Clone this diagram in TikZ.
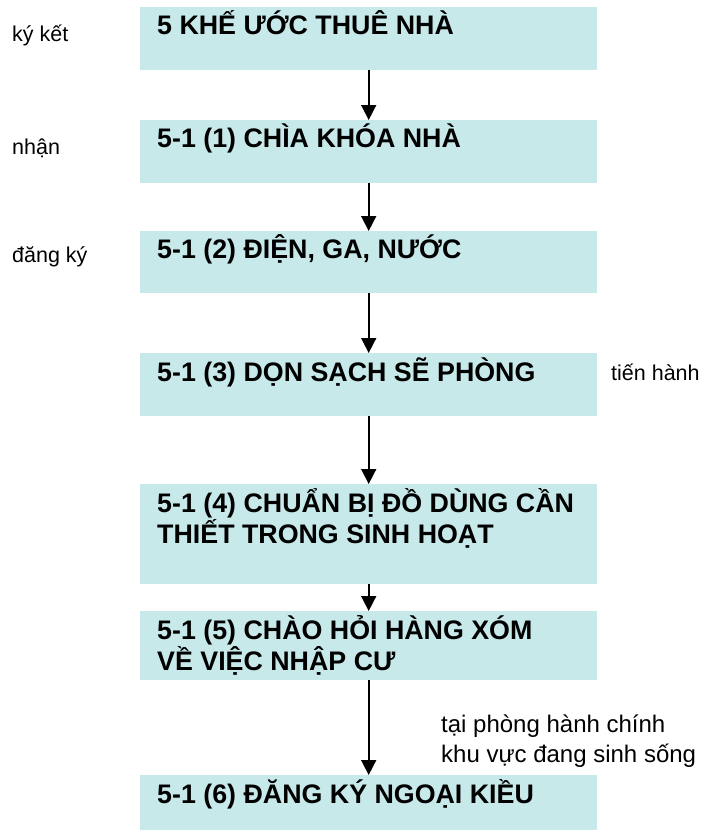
\documentclass[tikz,border=0pt]{standalone}
\usepackage{fontspec}
\setmainfont{Liberation Sans}
\usetikzlibrary{arrows.meta}
\definecolor{boxcyan}{RGB}{199,233,234}

\begin{document}
\begin{tikzpicture}[x=1pt, y=1pt,
        stepbox/.style={fill=boxcyan, draw=none, anchor=north west, minimum width=457pt, inner sep=0pt},
        steptext/.style={anchor=base west, inner sep=0pt, align=left, font=\bfseries\fontsize{26.8}{31}\selectfont},
        sidetext/.style={anchor=base west, inner sep=0pt, font=\fontsize{21.5}{26}\selectfont},
        notetext/.style={anchor=base west, inner sep=0pt, align=left, font=\fontsize{24}{30}\selectfont},
        flow/.style={line width=1.6pt, -{Triangle[length=15pt, width=15pt]}}]
        \useasboundingbox (0, 0) rectangle (702, -830);

        \node[stepbox, minimum height=63pt] (box1) at (140, -7) { };
        \node[stepbox, minimum height=63pt] (box2) at (140, -120) { };
        \node[stepbox, minimum height=62pt] (box3) at (140, -231) { };
        \node[stepbox, minimum height=63pt] (box4) at (140, -353) { };
        \node[stepbox, minimum height=100pt] (box5) at (140, -484) { };
        \node[stepbox, minimum height=69pt] (box6) at (140, -611) { };
        \node[stepbox, minimum height=55pt] (box7) at (140, -775) { };

        \node[steptext] (text1) at (157, -34.5) { 5 KHẾ ƯỚC THUÊ NHÀ };
        \node[steptext] (text2) at (157, -147.5) { 5-1 (1) CHÌA KHÓA NHÀ };
        \node[steptext] (text3) at (157, -258.5) { 5-1 (2) ĐIỆN, GA, NƯỚC };
        \node[steptext] (text4) at (157, -381) { 5-1 (3) DỌN SẠCH SẼ PHÒNG };
        \node[steptext] (text5) at (157, -543) { 5-1 (4) CHUẨN BỊ ĐỒ DÙNG CẦN\\THIẾT TRONG SINH HOẠT };
        \node[steptext] (text6) at (157, -670.5) { 5-1 (5) CHÀO HỎI HÀNG XÓM\\VỀ VIỆC NHẬP CƯ };
        \node[steptext] (text7) at (157, -803) { 5-1 (6) ĐĂNG KÝ NGOẠI KIỀU };

        \node[sidetext] (sign) at (12, -41) { ký kết };
        \node[sidetext] (receive) at (12, -154) { nhận };
        \node[sidetext] (register) at (12, -262) { đăng ký };
        \node[sidetext] (carry) at (611, -380) { tiến hành };
        \node[notetext] (office) at (441, -762) { tại phòng hành chính\\khu vực đang sinh sống };

        \draw[flow] (box1.south) -- (box2.north);
        \draw[flow] (box2.south) -- (box3.north);
        \draw[flow] (box3.south) -- (box4.north);
        \draw[flow] (box4.south) -- (box5.north);
        \draw[flow] (box5.south) -- (box6.north);
        \draw[flow] (box6.south) -- (box7.north);
    \end{tikzpicture}
\end{document}
